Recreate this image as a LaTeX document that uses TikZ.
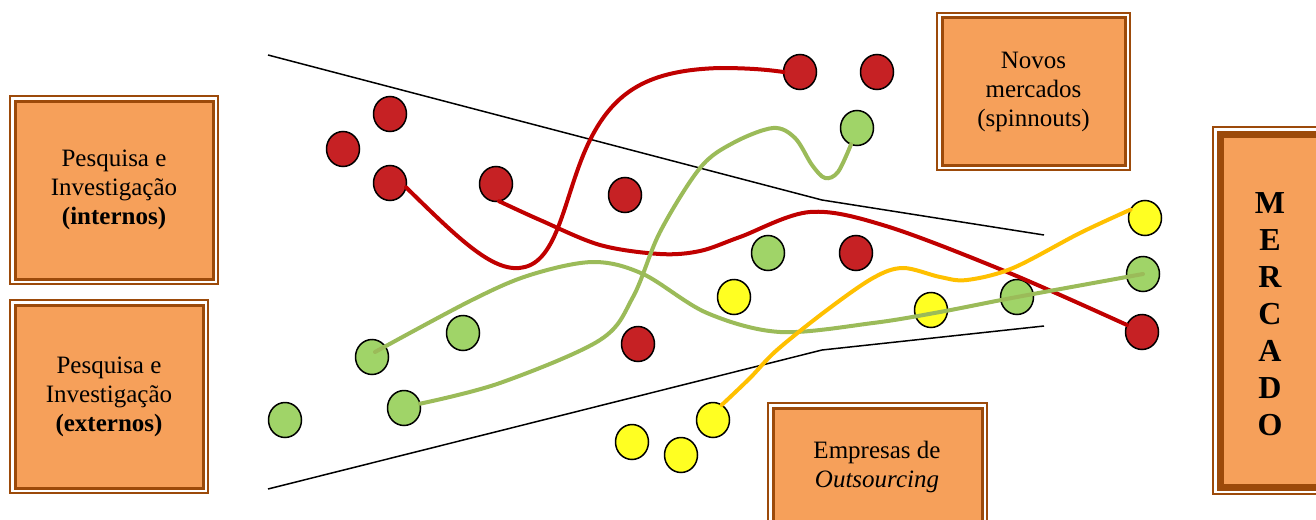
\documentclass[tikz,border=0pt]{standalone}
\usepackage{fontspec}
\setmainfont{Liberation Serif}
\usetikzlibrary{shapes.geometric}
\definecolor{boxfill}{HTML}{F6A05A}
\definecolor{boxline}{HTML}{9C4A0A}
\definecolor{redfill}{HTML}{C62124}
\definecolor{greenfill}{HTML}{A0D468}
\definecolor{yellowfill}{HTML}{FFFF22}
\definecolor{redflow}{HTML}{C00000}
\definecolor{greenflow}{HTML}{9BBB59}
\definecolor{yellowflow}{HTML}{FFC000}
\begin{document}
\begin{tikzpicture}[x=1pt,y=-1pt,
  box/.style={fill=boxfill, draw=boxline, line width=3pt, inner sep=0pt, outer sep=0pt, align=center, font=\fontsize{25}{29}\selectfont},
  boxouter/.style={draw=boxline, line width=1.2pt},
  boxtext/.style={align=center, inner sep=0pt, font=\fontsize{25}{29}\selectfont},
  dot/.style={ellipse, draw=black, line width=1.5pt, minimum width=33pt, minimum height=35pt, inner sep=0pt, outer sep=0pt},
  rdot/.style={dot, fill=redfill},
  gdot/.style={dot, fill=greenfill},
  ydot/.style={dot, fill=yellowfill},
  funnel/.style={draw=black, line width=1.5pt},
  flow/.style={line width=4pt, line cap=round},
  rflow/.style={flow, draw=redflow},
  gflow/.style={flow, draw=greenflow},
  yflow/.style={flow, draw=yellowflow}
]
\useasboundingbox (0,0) rectangle (1316,519);
\clip (0,0) rectangle (1316,519);

% boxes
\node[box, minimum width=198pt, minimum height=178pt] (bint) at (114,190) {Pesquisa e\\Investigação\\\textbf{(internos)}};
\draw[boxouter] ([shift={(-5pt,5pt)}]bint.north west) rectangle ([shift={(5pt,-5pt)}]bint.south east);
\node[box, minimum width=188pt, minimum height=183pt] (bext) at (109,396.5) {Pesquisa e\\Investigação\\\textbf{(externos)}};
\draw[boxouter] ([shift={(-5pt,5pt)}]bext.north west) rectangle ([shift={(5pt,-5pt)}]bext.south east);
\node[box, minimum width=183pt, minimum height=147pt] (bnov) at (1033.5,91.5) {Novos\\mercados\\(spinnouts)};
\draw[boxouter] ([shift={(-5pt,5pt)}]bnov.north west) rectangle ([shift={(5pt,-5pt)}]bnov.south east);
\node[box, minimum width=209pt, minimum height=130pt] (bemp) at (877.5,473) {};
\draw[boxouter] ([shift={(-5pt,5pt)}]bemp.north west) rectangle ([shift={(5pt,-5pt)}]bemp.south east);
\node[boxtext] (temp) at (877,467) {Empresas de\\\textit{Outsourcing}};
\node[box, line width=7pt, minimum width=110pt, minimum height=353pt] (bmer) at (1275,310.5) {};
\draw[boxouter] ([shift={(-7pt,7pt)}]bmer.north west) rectangle ([shift={(7pt,-7pt)}]bmer.south east);
\node[align=center, inner sep=0pt, font=\fontsize{32}{37}\selectfont\bfseries] (tmer) at (1270,314) {M\\E\\R\\C\\A\\D\\O};

% funnel
\coordinate (t1) at (268,55);
\coordinate (t2) at (822,200);
\coordinate (t3) at (1044,235);
\coordinate (f1) at (268,489);
\coordinate (f2) at (822,350);
\coordinate (f3) at (1044,326);
\draw[funnel] (t1) -- (t2) -- (t3);
\draw[funnel] (f1) -- (f2) -- (f3);

% red dots
\node[rdot] (r1) at (390,114) {};
\node[rdot] (r2) at (343,149) {};
\node[rdot] (r3) at (390,183) {};
\node[rdot] (r4) at (496,184) {};
\node[rdot] (r5) at (625,195) {};
\node[rdot] (r6) at (800,72) {};
\node[rdot] (r7) at (877,72) {};
\node[rdot] (r8) at (856,253) {};
\node[rdot] (r9) at (638,344) {};
\node[rdot] (r10) at (1142,332) {};
% green dots
\node[gdot] (g1) at (857,128) {};
\node[gdot] (g2) at (768,253) {};
\node[gdot] (g3) at (463,333) {};
\node[gdot] (g4) at (372,357) {};
\node[gdot] (g5) at (285,420) {};
\node[gdot] (g6) at (404,408) {};
\node[gdot] (g7) at (1017,297) {};
\node[gdot] (g8) at (1143,274) {};
% yellow dots
\node[ydot] (y1) at (1145,218) {};
\node[ydot] (y2) at (734,297) {};
\node[ydot] (y3) at (931,310) {};
\node[ydot] (y4) at (713,420) {};
\node[ydot] (y5) at (632,442) {};
\node[ydot] (y6) at (681,455) {};

% flows
\draw[rflow] (r3.-15) .. controls (460,240) and (495,275) .. (525,267) .. controls (560,258) and (565,190) .. (590,140) .. controls (615,90) and (650,70) .. (720,68) .. controls (750,68) and (770,70) .. (r6.west);
\draw[rflow] plot[smooth, tension=0.55] coordinates {(r4.-80) (540,220) (600,245) (660,254) (700,251) (740,237) (810,212) (886,226) (1007,272) (r10.155)};
\draw[gflow] plot[smooth, tension=0.55] coordinates {(375,352) (472,300) (530,275) (593,262) (643,274) (707,313) (780,332) (873,323) (940,312) (1017,297) (g8.center)};
\draw[gflow] plot[smooth, tension=0.55] coordinates {(g6.15) (500,383) (600,340) (633,297) (660,232) (700,168) (733,143) (773,128) (795,138) (812,165) (825,178) (838,172) (g1.-110)};
\draw[yflow] plot[smooth, tension=0.55] coordinates {(y4.60) (750,378) (777,350) (827,310) (873,278) (903,268) (940,277) (967,280) (1013,268) (1080,233) (y1.150)};
\end{tikzpicture}
\end{document}
